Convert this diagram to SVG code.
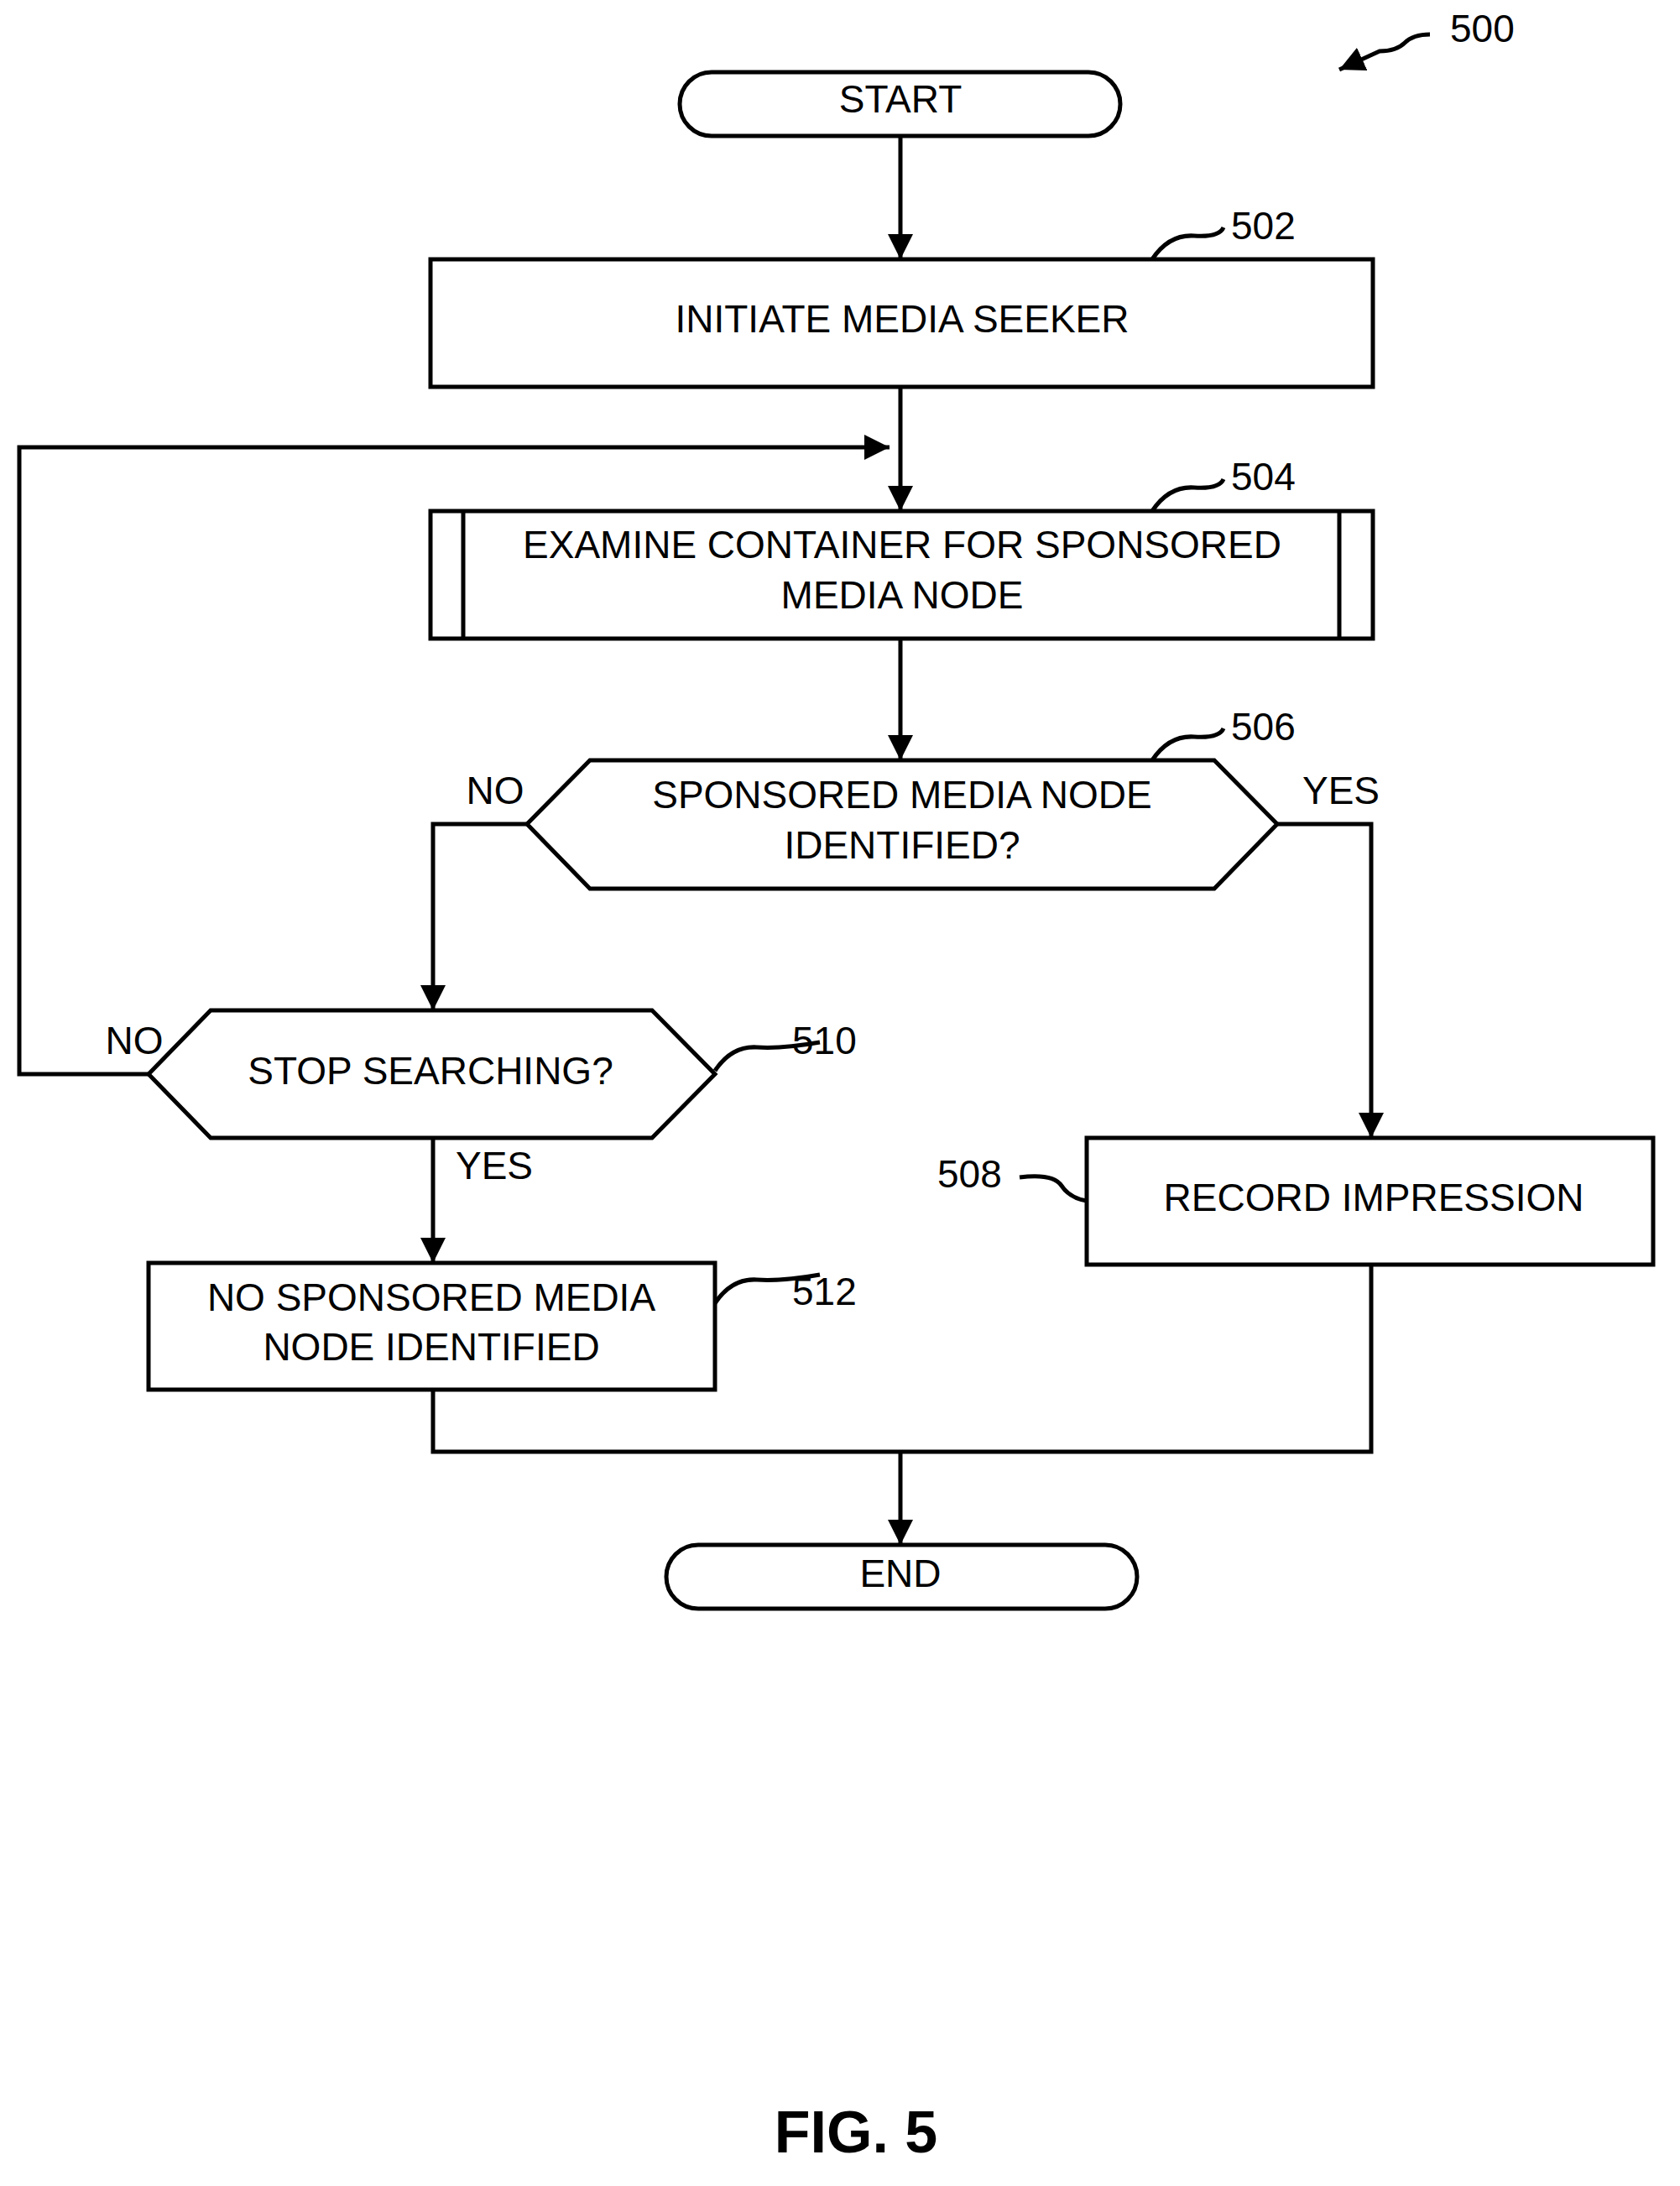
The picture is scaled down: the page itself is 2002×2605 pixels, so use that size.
<svg xmlns="http://www.w3.org/2000/svg" width="2002" height="2605" viewBox="0 0 2002 2605">
<style>
.s{fill:#fff;stroke:#000;stroke-width:5}
.l{fill:none;stroke:#000;stroke-width:5}
text{font-family:"Liberation Sans",Arial,sans-serif;font-size:46px;fill:#000;text-anchor:middle;dominant-baseline:middle}
.r{text-anchor:start}
</style>
<defs><marker id="a" viewBox="0 0 10 10" refX="10" refY="5" markerWidth="6" markerHeight="6" orient="auto" markerUnits="strokeWidth"><path d="M0,0L10,5L0,10z"/></marker></defs>
<rect width="2002" height="2605" fill="#fff"/>
<g id="connectors">
<path class="l" d="M1073,162V309" marker-end="url(#a)"/>
<path class="l" d="M1073,461V609" marker-end="url(#a)"/>
<path class="l" d="M177,1280H23V533H1060" marker-end="url(#a)"/>
<path class="l" d="M1073,761V906" marker-end="url(#a)"/>
<path class="l" d="M628,982H516V1204" marker-end="url(#a)"/>
<path class="l" d="M1522,982H1634V1356" marker-end="url(#a)"/>
<path class="l" d="M516,1356V1505" marker-end="url(#a)"/>
<path class="l" d="M516,1656V1730H1634V1507"/>
<path class="l" d="M1073,1730V1841" marker-end="url(#a)"/>
<path class="l" d="M1704,41q-20,0 -30,10t-30,10L1596,83" marker-end="url(#a)"/>
<path class="l" d="M1373,309q20,-30 50,-28t35,-10"/>
<path class="l" d="M1373,609q20,-30 50,-28t35,-10"/>
<path class="l" d="M1373,906q20,-30 50,-28t35,-10"/>
<path class="l" d="M852,1276q20,-30 50,-28t75,-6"/>
<path class="l" d="M852,1553q20,-30 50,-28t75,-6"/>
<path class="l" d="M1215,1403q40,-5 50,10t30,18"/>
</g>
<g id="start"><rect class="s" x="810" y="86" width="525" height="76" rx="38"/><text x="1073" y="122">START</text></g>
<g id="n502"><rect class="s" x="513" y="309" width="1123" height="152"/><text x="1075" y="384">INITIATE MEDIA SEEKER</text><text class="r" x="1467" y="273">502</text></g>
<g id="n504"><rect class="s" x="513" y="609" width="1123" height="152"/><path class="l" d="M552,609V761M1596,609V761"/><text x="1075" y="653">EXAMINE CONTAINER FOR SPONSORED</text><text x="1075" y="713">MEDIA NODE</text><text class="r" x="1467" y="572">504</text></g>
<g id="n506"><path class="s" d="M628,982L703,906H1447L1522,982L1447,1059H703z"/><text x="1075" y="951">SPONSORED MEDIA NODE</text><text x="1075" y="1011">IDENTIFIED?</text><text class="r" x="1467" y="870">506</text><text x="590" y="946">NO</text><text x="1598" y="946">YES</text></g>
<g id="n510"><path class="s" d="M177,1280L251,1204H777L852,1280L777,1356H251z"/><text x="513" y="1280">STOP SEARCHING?</text><text class="r" x="944" y="1244">510</text><text x="160" y="1244">NO</text><text x="589" y="1393">YES</text></g>
<g id="n508"><rect class="s" x="1295" y="1356" width="675" height="151"/><text x="1637" y="1431">RECORD IMPRESSION</text><text class="r" x="1117" y="1403">508</text></g>
<g id="n512"><rect class="s" x="177" y="1505" width="675" height="151"/><text x="514" y="1550">NO SPONSORED MEDIA</text><text x="514" y="1609">NODE IDENTIFIED</text><text class="r" x="944" y="1543">512</text></g>
<g id="end"><rect class="s" x="794" y="1841" width="561" height="76" rx="38"/><text x="1073" y="1879">END</text></g>
<text class="r" x="1728" y="38">500</text>
<text x="1020" y="2547" style="font-size:70px;font-weight:bold">FIG.  5</text>
</svg>
